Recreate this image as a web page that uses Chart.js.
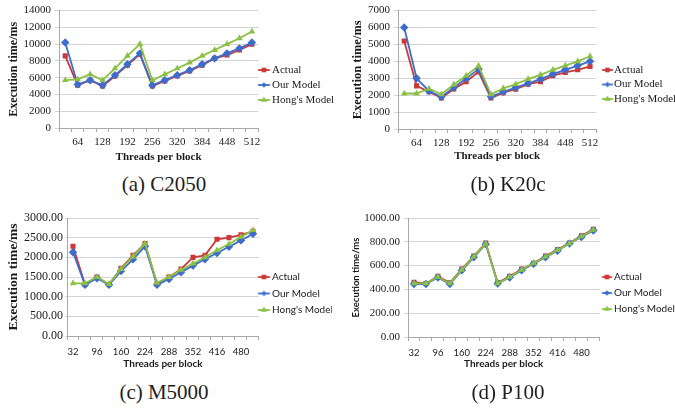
<!DOCTYPE html>
<html><head><meta charset="utf-8">
<script src="https://cdn.jsdelivr.net/npm/chart.js@4.4.0/dist/chart.umd.min.js"></script>
<style>
html,body{margin:0;padding:0;background:#fff;overflow:hidden;width:675px;height:411px;position:relative;}
canvas{position:absolute;}
.cap{position:absolute;font-family:"Liberation Serif",serif;font-size:21px;color:#1e1e1e;transform:translate(-50%,-50%);white-space:nowrap;}
</style></head><body>
<canvas id="ca" width="360" height="164" style="left:0;top:0"></canvas>
<canvas id="cb" width="360" height="164" style="left:340px;top:0"></canvas>
<canvas id="cc" width="360" height="165" style="left:0;top:205px"></canvas>
<canvas id="cd" width="360" height="165" style="left:340px;top:205px"></canvas>
<div class="cap" style="left:164px;top:184px">(a) C2050</div>
<div class="cap" style="left:508px;top:184px">(b) K20c</div>
<div class="cap" style="left:164px;top:392px">(c) M5000</div>
<div class="cap" style="left:508px;top:392px">(d) P100</div>
<script>
const threads = [32,64,96,128,160,192,224,256,288,320,352,384,416,448,480,512];
const seriesNames = ['Actual','Our Model',"Hong's Model"];

const c2050Actual = [8600,5100,5700,5000,6200,7500,8800,5000,5600,6200,6800,7500,8300,8700,9300,10000];
const c2050Our    = [10200,5200,5700,5100,6300,7600,8900,5100,5700,6300,6900,7600,8300,8900,9500,10200];
const c2050Hong   = [5700,5800,6400,5700,7100,8600,10000,5700,6400,7100,7800,8600,9300,10000,10700,11500];

const k20cActual = [5200,2550,2200,1830,2370,2800,3380,1830,2150,2350,2650,2800,3150,3350,3500,3700];
const k20cOur    = [6000,3000,2250,1900,2450,2980,3540,1920,2200,2450,2700,2950,3250,3500,3750,4000];
const k20cHong   = [2100,2100,2380,2050,2630,3150,3730,2050,2400,2650,2950,3200,3500,3750,4000,4300];

const m5000Actual = [2280,1310,1500,1310,1720,2050,2350,1330,1500,1700,2000,2050,2460,2500,2570,2660];
const m5000Our    = [2130,1300,1470,1300,1650,1950,2280,1300,1450,1620,1790,1950,2110,2270,2430,2600];
const m5000Hong   = [1340,1340,1500,1320,1700,2020,2350,1350,1500,1680,1840,2000,2180,2340,2520,2690];

const p100Actual = [460,450,510,455,570,680,790,455,510,570,620,680,735,790,850,905];
const p100Our    = [445,445,500,445,560,670,780,450,500,560,615,670,725,785,840,895];
const p100Hong   = [450,450,505,450,565,675,785,450,505,565,620,675,730,785,845,900];

const colors = ['#CC3838','#3E6CCB','#8CC043'];
const markers = ['rect','rectRot','triangle'];
const markerRadius = [3.6,4.2,3.8];
const textColor = '#1a1a1a';
const SERIF = '"Liberation Serif", "Times New Roman", serif';
const SANS = 'Lato, "Liberation Sans", sans-serif';

function drawMarker(g, style, x, y, r, color){
  g.fillStyle = color; g.strokeStyle = color; g.lineWidth = 1;
  g.beginPath();
  if (style === 'rect'){ const s = r*Math.SQRT1_2; g.rect(x-s,y-s,2*s,2*s); }
  else if (style === 'rectRot'){ const s = r*Math.SQRT1_2; g.moveTo(x-s,y); g.lineTo(x,y-s); g.lineTo(x+s,y); g.lineTo(x,y+s); g.closePath(); }
  else { const h = r*1.5, side = h*2/Math.sqrt(3); g.moveTo(x-side/2,y+h/3); g.lineTo(x+side/2,y+h/3); g.lineTo(x,y-2*h/3); g.closePath(); }
  g.fill();
}
function legendImage(i, rel0, rel1){
  const half = Math.ceil(Math.max(Math.abs(rel0),Math.abs(rel1)))+3;
  const c = document.createElement('canvas');
  c.width = half*2; c.height = 12;
  const g = c.getContext('2d');
  g.strokeStyle = colors[i]; g.lineWidth = 1.8;
  g.beginPath(); g.moveTo(half+rel0,6); g.lineTo(half+rel1,6); g.stroke();
  drawMarker(g, markers[i], half+(rel0+rel1)/2, 6, markerRadius[i]*0.9, colors[i]);
  return c;
}
function measure(font, txt){
  const g = document.createElement('canvas').getContext('2d');
  g.font = font; return g.measureText(txt).width;
}
const placeLegend = {
  id:'placeLegend',
  afterLayout(chart, args, o){
    const lg = chart.legend; if(!lg) return;
    const w = lg.width;
    lg.left = o.boxX - o.pad; lg.right = lg.left + w;
    lg.top = o.y1 - o.fs/2 - o.pad;
    lg.bottom = lg.top + o.pad + 3*(o.fs+o.pad);
    lg.height = lg.bottom - lg.top;
  }
};

function makePanel(id, values, cfg){
  const canvas = document.getElementById(id);
  const W = canvas.width, H = canvas.height;
  const lfs = cfg.legendFont.size;
  const pad = cfg.legend.spacing - lfs;
  const bw = cfg.legend.textX - cfg.legend.boxX - lfs/2;
  const centerX = cfg.legend.boxX + bw/2;
  const imgs = [0,1,2].map(i => legendImage(i, cfg.legend.lineStart-centerX, cfg.legend.lineEnd-centerX));
  const fontStr = lfs+'px '+cfg.legendFont.family;
  const maxText = Math.max(...seriesNames.map(s=>measure(fontStr,s)));
  const legendW = pad + bw + lfs/2 + maxText + 10;
  const padRight = W - cfg.area.R - legendW;
  const datasets = values.map((v,i)=>({
    label: seriesNames[i], data: v,
    borderColor: colors[i], backgroundColor: colors[i],
    borderWidth: 1.8, pointStyle: markers[i], pointRadius: markerRadius[i],
    pointBorderWidth: 0, pointBackgroundColor: colors[i], pointHoverRadius: markerRadius[i],
    tension: 0, order: 3-i
  }));
  return new Chart(canvas, {
    type:'line',
    data:{labels: threads, datasets},
    plugins:[placeLegend],
    options:{
      responsive:false, animation:false, devicePixelRatio:1,
      layout:{padding:{left:0, top:cfg.area.T, right:padRight, bottom:0}},
      plugins:{
        tooltip:{enabled:false},
        placeLegend:{boxX:cfg.legend.boxX, pad, y1:cfg.legend.y1, fs:lfs},
        legend:{
          position:'right',
          labels:{
            font:cfg.legendFont, color:textColor, usePointStyle:true, pointStyleWidth:bw, padding:pad,
            generateLabels:(chart)=>chart.data.datasets.map((ds,i)=>({
              text:ds.label, pointStyle:imgs[i], fillStyle:ds.borderColor, strokeStyle:ds.borderColor,
              lineWidth:0, hidden:false, datasetIndex:i, fontColor:textColor
            }))
          }
        }
      },
      scales:{
        x:{
          type:'category', offset:true,
          afterFit:(s)=>{ s.height = H - cfg.area.B; },
          grid:{display:true, drawOnChartArea:false, offset:true, drawTicks:true, tickLength:4, color:'#a8a8a8'},
          border:{display:true, color:'#a8a8a8', width:1},
          ticks:{autoSkip:false, maxRotation:0, minRotation:0, padding:cfg.xTickPad, font:cfg.xTickFont, color:textColor,
            callback:(val, idx)=> (idx % 2 === cfg.labelParity) ? String(threads[idx]) : ''},
          title:{display:true, text:'Threads per block', font:cfg.xTitleFont, color:textColor, padding:{top:0,bottom:cfg.xTitlePadBottom}}
        },
        y:{
          min:0, max:cfg.yMax,
          afterFit:(s)=>{ s.width = cfg.area.L; },
          grid:{color:'#d4d4d4', lineWidth:1, drawTicks:true, tickLength:cfg.yTickLen},
          border:{display:true, color:'#a8a8a8', width:1},
          ticks:{stepSize:cfg.yStep, padding:cfg.yTickPad, font:cfg.yTickFont, color:textColor,
            callback:(v)=> cfg.yDecimals ? Number(v).toFixed(2) : String(v)},
          title:{display:true, text:'Execution time/ms', font:cfg.yTitleFont, color:textColor, padding:{top:cfg.yTitlePadTop,bottom:0}}
        }
      }
    }
  });
}

makePanel('ca', [c2050Actual,c2050Our,c2050Hong], {
  area:{L:59,T:10,R:248,B:128}, yMax:14000, yStep:2000, yDecimals:false, labelParity:1,
  yTickFont:{family:SERIF,size:11}, xTickFont:{family:SERIF,size:11},
  yTitleFont:{family:SERIF,size:12,weight:'bold'}, xTitleFont:{family:SERIF,size:11,weight:'bold'},
  legendFont:{family:SERIF,size:11},
  yTickLen:4, yTickPad:4, xTickPad:4, yTitlePadTop:6.5, xTitlePadBottom:0,
  legend:{boxX:252, textX:272, lineStart:258, lineEnd:270, y1:70, spacing:15}
});
makePanel('cb', [k20cActual,k20cOur,k20cHong], {
  area:{L:58,T:9,R:248,B:129}, yMax:7000, yStep:1000, yDecimals:false, labelParity:1,
  yTickFont:{family:SERIF,size:11}, xTickFont:{family:SERIF,size:11},
  yTitleFont:{family:SERIF,size:12.5,weight:'bold'}, xTitleFont:{family:SERIF,size:11,weight:'bold'},
  legendFont:{family:SERIF,size:11},
  yTickLen:4, yTickPad:4, xTickPad:4, yTitlePadTop:10, xTitlePadBottom:1,
  legend:{boxX:256, textX:274, lineStart:262, lineEnd:273, y1:70, spacing:14.5}
});
makePanel('cc', [m5000Actual,m5000Our,m5000Hong], {
  area:{L:67,T:13,R:248,B:131}, yMax:3000, yStep:500, yDecimals:true, labelParity:0,
  yTickFont:{family:SERIF,size:12}, xTickFont:{family:SANS,size:9.5},
  yTitleFont:{family:SERIF,size:13.5,weight:'bold'}, xTitleFont:{family:SANS,size:10,weight:'bold'},
  legendFont:{family:SANS,size:10},
  yTickLen:2, yTickPad:2, xTickPad:6, yTitlePadTop:5, xTitlePadBottom:0,
  legend:{boxX:252, textX:272, lineStart:258, lineEnd:270, y1:72, spacing:16.5}
});
makePanel('cd', [p100Actual,p100Our,p100Hong], {
  area:{L:68,T:13,R:253,B:132}, yMax:1000, yStep:200, yDecimals:true, labelParity:0,
  yTickFont:{family:SERIF,size:11}, xTickFont:{family:SANS,size:9.5},
  yTitleFont:{family:SANS,size:9.5,weight:'bold'}, xTitleFont:{family:SANS,size:10,weight:'bold'},
  legendFont:{family:SANS,size:10},
  yTickLen:4, yTickPad:4, xTickPad:6, yTitlePadTop:10, xTitlePadBottom:0,
  legend:{boxX:258, textX:274, lineStart:262, lineEnd:272, y1:72, spacing:16}
});
</script>
</body></html>
